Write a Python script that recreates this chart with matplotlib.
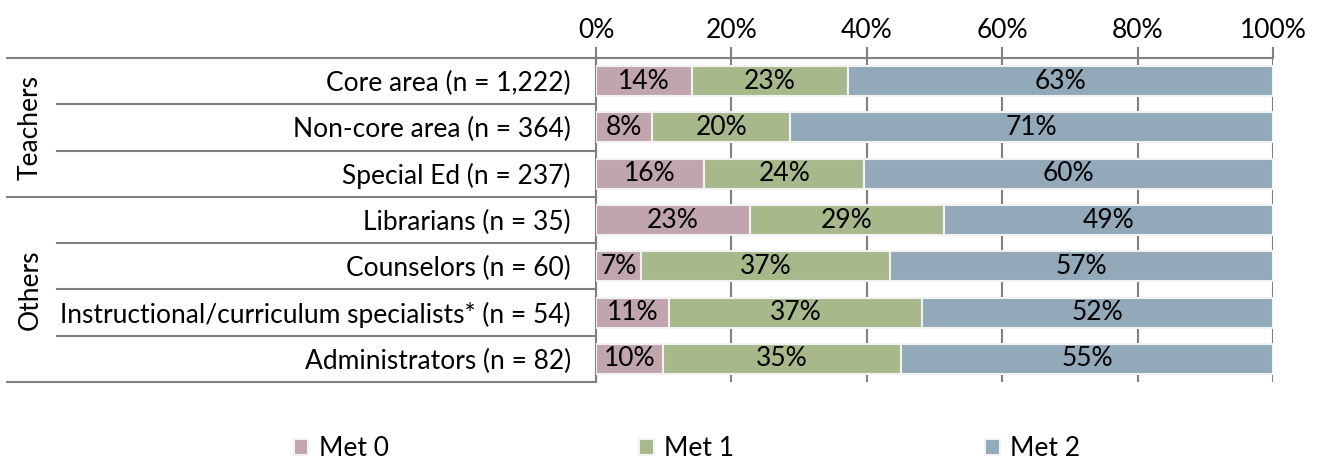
import numpy as np
import matplotlib.pyplot as plt
from matplotlib.lines import Line2D

plt.rcParams['font.family'] = ['Lato', 'DejaVu Sans']
plt.rcParams['font.size'] = 19

categories = ['Core area (n = 1,222)', 'Non-core area (n = 364)', 'Special Ed (n = 237)',
              'Librarians (n = 35)', 'Counselors (n = 60)',
              'Instructional/curriculum specialists* (n = 54)', 'Administrators (n = 82)']
groups = ['Teachers', 'Others']
group_sizes = [3, 4]
met0 = [14.2, 8.3, 16.0, 22.7, 6.7, 10.8, 9.9]
met1 = [23.0, 20.4, 23.6, 28.7, 36.7, 37.4, 35.2]
met2 = [62.8, 71.3, 60.4, 48.6, 56.6, 51.8, 54.9]
series = ['Met 0', 'Met 1', 'Met 2']
colors = ['#C0A5AE', '#A7B98B', '#92A9B9']

W, H = 1326, 459
fig = plt.figure(figsize=(W / 100, H / 100), dpi=100)
ax = fig.add_axes([596 / W, 1 - 382 / H, (1273 - 596) / W, (382 - 58) / H])

y = np.arange(len(categories))
left = np.zeros(len(categories))
for vals, name, c in zip([met0, met1, met2], series, colors):
    vals = np.array(vals)
    ax.barh(y, vals, left=left, height=0.65, color=c, edgecolor='#F2F2F2',
            linewidth=1.5, label=name, zorder=3)
    for yi, l, v in zip(y, left, vals):
        ax.text(l + v / 2, yi, f'{v:.0f}%', ha='center', va='center', fontsize=19, zorder=4)
    left += vals

ax.set_xlim(0, 100)
ax.set_ylim(len(categories) - 0.5, -0.5)
ax.xaxis.tick_top()
ax.set_xticks(np.arange(0, 101, 20))
ax.set_xticklabels([f'{t}%' for t in range(0, 101, 20)])
ax.tick_params(axis='x', length=8, width=1.5, color='#808080', pad=3)
ax.set_yticks(y)
ax.set_yticklabels(categories)
ax.tick_params(axis='y', length=0, pad=18)
ax.grid(axis='x', color='#808080', linewidth=1.5, zorder=0)
for s in ['right', 'bottom']:
    ax.spines[s].set_visible(False)
for s in ['top', 'left']:
    ax.spines[s].set_color('#808080')
    ax.spines[s].set_linewidth(1.5)

# multi-level category separators
ax_x0 = 596
def fx(px):
    return (px - ax_x0) / (1273 - ax_x0)
boundaries = np.cumsum([0] + group_sizes)
for i in range(len(categories) + 1):
    yy = i - 0.5
    x_start = 7 if i in boundaries else 57
    ax.add_line(Line2D([fx(x_start), 0], [yy, yy], transform=ax.get_yaxis_transform(),
                       color='#808080', linewidth=1.5, clip_on=False))
for g, a, b in zip(groups, boundaries[:-1], boundaries[1:]):
    ax.text(fx(30), (a + b - 1) / 2, g, rotation=90, ha='center', va='center',
            transform=ax.get_yaxis_transform(), fontsize=19)

fig.legend(loc='center', bbox_to_anchor=(0.5 + 24 / W, 1 - 449 / H), ncol=3, frameon=False,
           handlelength=0.55, handleheight=0.55, handletextpad=0.4, columnspacing=9.5,
           fontsize=19)

fig.savefig('out.png', dpi=100)
